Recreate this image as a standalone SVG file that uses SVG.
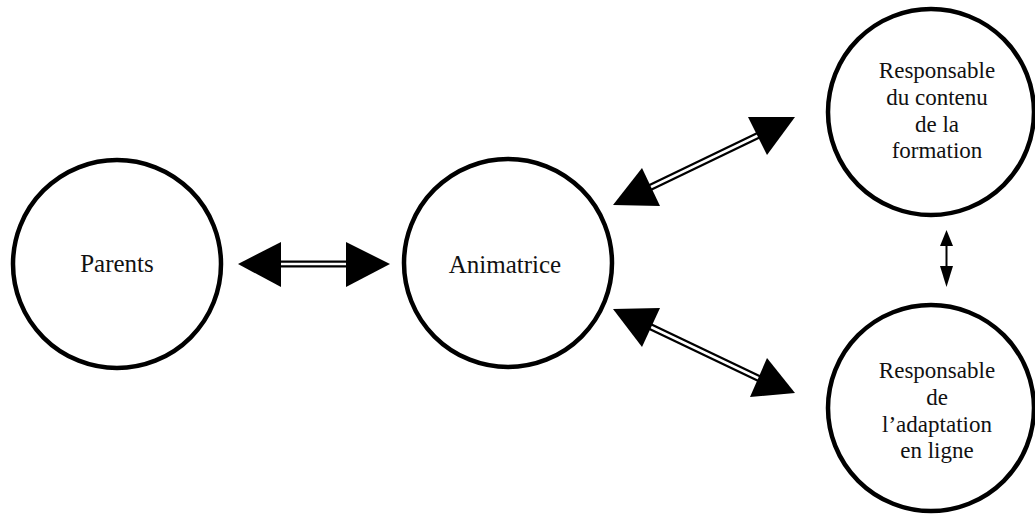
<svg xmlns="http://www.w3.org/2000/svg" width="1035" height="515" viewBox="0 0 1035 515">
<style>
.node{fill:#fff;stroke:#000;stroke-width:4.5}
.lbl{font-family:"Liberation Serif","Times New Roman",serif;fill:#111;text-anchor:middle}
.big{font-size:25px}
.sm{font-size:23px}
.shaftO{stroke:#000;stroke-width:7;fill:none}
.shaftI{stroke:#fff;stroke-width:2.5;fill:none}
.head{fill:#000}
</style>
<rect width="1035" height="515" fill="#fff"/>
<g id="parents">
<circle class="node" cx="117" cy="264" r="104"/>
<text class="lbl big" x="117" y="272">Parents</text>
</g>
<g id="animatrice">
<circle class="node" cx="508" cy="263" r="104"/>
<text class="lbl big" x="505" y="273">Animatrice</text>
</g>
<g id="contenu">
<circle class="node" cx="931" cy="112" r="103"/>
<text class="lbl sm" x="937" y="78">Responsable</text>
<text class="lbl sm" x="937" y="105">du contenu</text>
<text class="lbl sm" x="937" y="132">de la</text>
<text class="lbl sm" x="937" y="158">formation</text>
</g>
<g id="adaptation">
<circle class="node" cx="931" cy="408" r="103"/>
<text class="lbl sm" x="937" y="378">Responsable</text>
<text class="lbl sm" x="937" y="405">de</text>
<text class="lbl sm" x="937" y="432">l’adaptation</text>
<text class="lbl sm" x="937" y="458">en ligne</text>
</g>
<g id="connectors">
<line class="shaftO" x1="278" y1="264" x2="349" y2="264"/>
<line class="shaftI" x1="278" y1="264" x2="349" y2="264"/>
<polygon class="head" points="238,264 281,242 281,287"/>
<polygon class="head" points="390,264 346,242 346,287"/>
<line class="shaftO" x1="649" y1="188" x2="759" y2="135"/>
<line class="shaftI" x1="649" y1="188" x2="759" y2="135"/>
<polygon class="head" points="613,205 642,168 660,206"/>
<polygon class="head" points="795,117 748,117 767,155"/>
<line class="shaftO" x1="649" y1="326" x2="760" y2="379"/>
<line class="shaftI" x1="649" y1="326" x2="760" y2="379"/>
<polygon class="head" points="613,309 660,308 642,347"/>
<polygon class="head" points="795,393 767,358 750,397"/>
<line x1="946.5" y1="244" x2="946.5" y2="268" stroke="#000" stroke-width="2"/>
<polygon class="head" points="946.5,230 940,246 953,246"/>
<polygon class="head" points="946.5,287 940,266 953,266"/>
</g>
</svg>
